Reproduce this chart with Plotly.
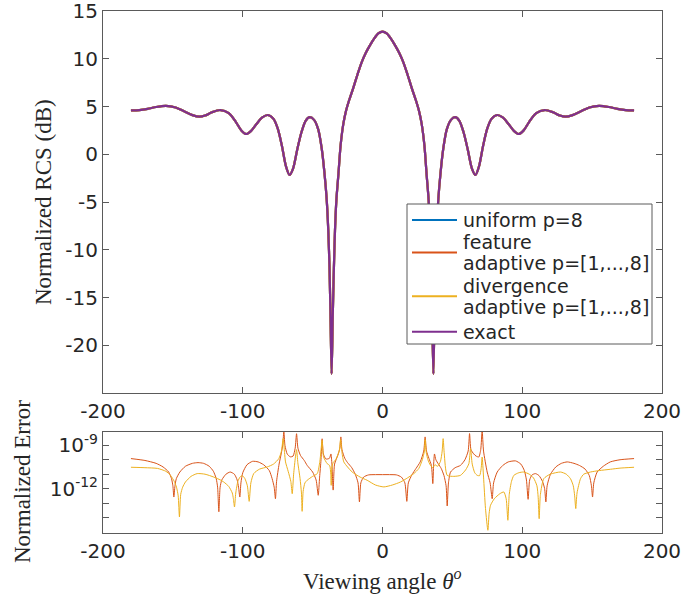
import plotly.graph_objects as go

# ---------------- data ----------------
theta_rcs = [-180, -174, -168, -162, -155, -148, -142, -136, -131, -127, -122, -116, -110, -105, -101,
             -97.5, -94, -90, -86, -82, -78, -75, -72, -69, -66.5, -64, -61, -58, -55, -52, -49, -46,
             -43.5, -41.5, -40, -38.8, -37.9, -37.2, -36.4, -35.6, -34.8, -34, -33, -31.5, -30, -28,
             -26, -24, -21, -18, -15, -12, -9, -6, -3, 0,
             3, 6, 9, 12, 15, 18, 21, 24, 26, 28, 30, 31.5, 33, 34, 34.8, 35.6, 36.4, 37.2, 37.9,
             38.8, 40, 41.5, 43.5, 46, 49, 52, 55, 58, 61, 64, 66.5, 69, 72, 75, 78, 82, 86, 90, 94,
             97.5, 101, 105, 110, 116, 122, 127, 131, 136, 142, 148, 155, 162, 168, 174, 180]
rcs_db = [4.6, 4.62, 4.75, 4.95, 5.07, 4.9, 4.5, 4.1, 3.93, 4.05, 4.4, 4.63, 4.3, 3.4, 2.5,
          2.12, 2.45, 3.2, 3.85, 4.11, 3.7, 2.7, 0.9, -1.3, -2.17, -1.5, 0.5, 2.3, 3.5, 3.88, 3.6, 2.6,
          0.6, -2.0, -4.6, -8, -12, -17, -23, -17, -12, -8, -4.8, -2.0, 0.9, 3.2,
          4.6, 5.6, 6.9, 8.3, 9.6, 10.6, 11.4, 12.1, 12.65, 12.85,
          12.65, 12.1, 11.4, 10.6, 9.6, 8.3, 6.9, 5.6, 4.6, 3.2, 0.9, -2.0, -4.8, -8, -12, -17, -23, -17, -12,
          -8, -4.6, -2.0, 0.6, 2.6, 3.6, 3.88, 3.5, 2.3, 0.5, -1.5, -2.17, -1.3, 0.9, 2.7, 3.7, 4.11, 3.85, 3.2, 2.45,
          2.12, 2.5, 3.4, 4.3, 4.63, 4.4, 4.05, 3.93, 4.1, 4.5, 4.9, 5.07, 4.95, 4.75, 4.62, 4.6]

theta_feat = [-180, -170, -162, -157, -153, -151, -150, -149.3, -148.5, -147.5, -145, -141, -136, -132, -128,
              -124, -121, -119, -118, -117.1, -116.2, -115, -112, -109, -106, -104, -103, -102.1, -101.3,
              -100, -97, -93, -89, -85, -81, -79, -77.5, -76.6, -75.8, -74, -72.5, -71.3, -70.6, -69.8,
              -68.2, -66, -64, -62.5, -61.5, -60.5, -58.7, -56, -53.9, -50, -47.5, -46, -45, -44, -43.2,
              -42.3, -40.5, -38, -36.9, -36.2, -35.3, -34.3, -32, -30.5, -29.8, -29, -27, -25, -22, -19.5,
              -17.5, -16.5, -15.5, -13.5, -10, -5, 0, 5, 10, 13.5, 16, 17.4, 18.5, 21, 24, 27, 29.5, 30.5,
              31.5, 33.2, 35, 36, 36.6, 37.2, 38.2, 40, 42, 44, 45.5, 46.3, 47.2, 48.7, 52, 55.8, 59, 61.3,
              62.3, 63.3, 65.3, 67, 68.9, 70.3, 71.3, 72.3, 74.9, 77, 78.5, 79.5, 82.1, 86, 90, 95.2, 99,
              101.5, 103, 104.2, 105.3, 107, 109.5, 112, 114.5, 116, 116.9, 117.8, 120.2, 124, 128, 132.2,
              137, 141, 145, 148, 149.5, 150.3, 151.2, 153.6, 158, 163, 170, 180]
err_feat_log10 = [-9.92, -10.05, -10.25, -10.5, -10.85, -11.3, -11.8, -12.58, -11.8, -11.3, -10.85, -10.45,
                  -10.25, -10.2, -10.25, -10.45, -10.8, -11.3, -11.9, -13.6, -11.9, -11.4, -11.0, -10.85,
                  -11.0, -11.4, -11.9, -12.58, -11.6, -10.9, -10.35, -10.11, -10.15, -10.35, -10.75, -11.3,
                  -11.9, -12.7, -11.5, -10.3, -9.6, -8.9, -8.0, -9.0, -9.6, -9.8, -9.75, -9.2, -8.2, -9.2,
                  -9.7, -10.05, -10.39, -10.85, -11.4, -12.46, -11.2, -10.0, -8.55, -9.6, -9.95, -9.9, -9.6,
                  -10.3, -12.1, -10.3, -9.7, -9.2, -8.42, -9.3, -9.9, -10.2, -10.55, -11.0, -11.6, -12.92,
                  -11.6, -11.2, -11.05, -11.03, -11.03, -11.03, -11.05, -11.2, -11.6, -12.88, -11.6, -11.05,
                  -10.6, -10.15, -9.4, -8.42, -9.4, -9.9, -10.4, -11.65, -10.3, -9.6, -10.0, -10.3, -10.6,
                  -11.1, -11.8, -13.2, -11.6, -10.85, -10.55, -10.39, -10.0, -9.4, -8.19, -9.3, -9.6, -9.75,
                  -9.81, -9.3, -8.0, -9.4, -10.85, -11.6, -12.7, -11.6, -10.85, -10.4, -10.15, -10.08, -10.3,
                  -10.75, -11.4, -12.74, -11.4, -11.05, -10.96, -11.1, -11.5, -12.0, -12.92, -11.8, -11.0,
                  -10.5, -10.25, -10.15, -10.25, -10.4, -10.65, -11.1, -11.8, -12.58, -11.6, -10.85, -10.45,
                  -10.15, -10.0, -9.92]

theta_div = [-180, -170, -161, -155, -151.7, -149, -147.4, -146.2, -145.3, -144.4, -143, -141, -137, -132.6,
             -127, -120.7, -116, -113.6, -110, -107.5, -106.7, -105.9, -105, -103.5, -102, -100.4, -98.5,
             -96.7, -95.4, -94.2, -92.1, -88, -82.5, -78, -74.2, -72.3, -71.1, -70.1, -69.4, -67.5, -65.6,
             -64.6, -63.6, -62.3, -61.5, -60.6, -59, -58, -57.5, -56.8, -55.5, -53.9, -50, -46.7, -44.8,
             -43.2, -42.2, -39.6, -37.8, -37, -36.7, -36.3, -35.3, -33.5, -31, -30, -29, -27.7, -25, -21.7,
             -16, -11, -5, 1, 7, 12.9, 18, 22.4, 26, 28.5, 30, 30.5, 31.3, 32.5, 34.3, 36, 37.5, 39.5, 41.5,
             42.7, 43.4, 44.2, 46.3, 51, 55.8, 59.5, 61.8, 63, 64.2, 66, 67.8, 69.5, 70.6, 71.3, 72.3, 73.7,
             75.4, 76.3, 77.3, 80, 84, 86.8, 88.5, 89.7, 90.7, 92.3, 94, 97.5, 101.1, 105, 108, 110.5, 111.4,
             112.1, 113, 115.4, 120, 127.4, 131.5, 134.5, 136.5, 137.5, 138.3, 139.2, 141.7, 144, 148.8, 155,
             163.1, 170, 180]
err_div_log10 = [-10.52, -10.55, -10.6, -10.8, -11.08, -11.5, -11.9, -12.5, -13.96, -12.4, -11.9, -11.54,
                 -11.15, -10.96, -11.0, -11.2, -11.4, -11.54, -11.85, -12.3, -12.7, -13.27, -12.3, -11.5,
                 -11.2, -11.1, -11.3, -11.8, -12.88, -11.6, -10.95, -10.65, -10.5, -10.3, -9.92, -9.4, -8.54,
                 -9.5, -10.15, -10.8, -11.5, -12.35, -11.0, -9.8, -9.3, -10.2, -11.3, -12.3, -13.57, -12.2,
                 -11.6, -11.42, -11.15, -10.96, -10.1, -8.65, -9.8, -10.27, -10.4, -11.0, -11.77, -10.6,
                 -10.2, -10.0, -9.4, -8.6, -9.5, -10.15, -10.5, -10.85, -11.2, -11.42, -11.75, -11.88,
                 -11.75, -11.54, -11.25, -10.96, -10.6, -10.0, -9.4, -8.6, -9.5, -10.0, -10.39, -10.55,
                 -10.35, -10.45, -10.1, -9.4, -8.54, -9.6, -11.08, -11.15, -11.08, -10.7, -10.27, -9.23,
                 -10.3, -10.9, -11.08, -11.1, -10.6, -9.81, -11.2, -13.38, -14.88, -13.7, -13.15, -12.7,
                 -12.35, -12.23, -12.7, -14.19, -12.4, -11.5, -11.08, -10.9, -10.85, -11.0, -11.25, -11.8,
                 -12.6, -14.08, -12.4, -11.31, -11.0, -10.85, -11.0, -11.31, -11.8, -12.5, -13.38, -12.3,
                 -11.31, -11.0, -10.85, -10.75, -10.66, -10.58, -10.52]

x_tick_vals = [-200, -100, 0, 100, 200]
x_tick_text = ["-200", "-100", "0", "100", "200"]
rcs_tick_vals = [-20, -15, -10, -5, 0, 5, 10, 15]
rcs_tick_text = ["-20", "-15", "-10", "-5", "0", "5", "10", "15"]
err_tick_vals = [1e-12, 1e-9]
err_tick_text = ["10<sup>-12</sup>", "10<sup>-9</sup>"]
err_minor_vals = [1e-14, 1e-13, 1e-11, 1e-10]

series_names = ["uniform p=8", "feature adaptive p=[1,...,8]",
                "divergence adaptive p=[1,...,8]", "exact"]
legend_lines = [["uniform p=8"], ["feature", "adaptive p=[1,...,8]"],
                ["divergence", "adaptive p=[1,...,8]"], ["exact"]]
colors = ["#0072BD", "#D95319", "#EDB120", "#7E2F8E"]

# ---------------- layout helpers (pixel -> paper) ----------------
L_PX, R_PX, T_PX, B_PX = 103, 662, 11, 533
def px_x(p):
    return (p - L_PX) / (R_PX - L_PX)
def px_y(p):
    return (B_PX - p) / (B_PX - T_PX)

# ---------------- figure ----------------
fig = go.Figure()
for name, col in zip(series_names, colors):
    fig.add_trace(go.Scatter(x=theta_rcs, y=rcs_db, mode="lines", name=name,
                             line=dict(color=col, width=2.2, shape="spline", smoothing=0.8),
                             showlegend=False, xaxis="x", yaxis="y"))

fig.add_trace(go.Scatter(x=theta_feat, y=[10 ** v for v in err_feat_log10], mode="lines",
                         name="feature error",
                         line=dict(color=colors[1], width=1, shape="spline", smoothing=0.6),
                         showlegend=False, xaxis="x2", yaxis="y2"))
fig.add_trace(go.Scatter(x=theta_div, y=[10 ** v for v in err_div_log10], mode="lines",
                         name="divergence error",
                         line=dict(color=colors[2], width=1, shape="spline", smoothing=0.6),
                         showlegend=False, xaxis="x2", yaxis="y2"))

tickfont = dict(family="DejaVu Sans", size=20, color="#262626")
axis_common = dict(showline=True, linecolor="#5a5a5a", linewidth=1, mirror="ticks",
                   ticks="inside", ticklen=6, tickcolor="#5a5a5a", showgrid=False,
                   zeroline=False, tickfont=tickfont, automargin=False,
                   ticklabeloverflow="allow")

# legend drawn as a boxed key (shapes + text)
shapes = [dict(type="rect", xref="paper", yref="paper",
               x0=px_x(407), x1=px_x(652), y0=px_y(344), y1=px_y(204),
               line=dict(color="#5a5a5a", width=1), fillcolor="white", layer="above")]
annotations = []
text_rows = [220, 241.7, 263.3, 285.7, 307, 331.7]
row = 0
for lines, col in zip(legend_lines, colors):
    rows = text_rows[row:row + len(lines)]
    y_mid = sum(rows) / len(rows)
    shapes.append(dict(type="line", xref="paper", yref="paper",
                       x0=px_x(412), x1=px_x(457), y0=px_y(y_mid), y1=px_y(y_mid),
                       line=dict(color=col, width=2), layer="above"))
    for txt, ry in zip(lines, rows):
        annotations.append(dict(text=txt, xref="paper", yref="paper", x=px_x(461), y=px_y(ry),
                                xanchor="left", yanchor="middle", showarrow=False,
                                font=dict(family="DejaVu Sans", size=19, color="#262626")))
    row += len(lines)

label_font = dict(family="Liberation Serif", size=23, color="#262626")
annotations += [
    dict(text="Normalized RCS (dB)", xref="paper", yref="paper", x=px_x(43), y=px_y(202),
         textangle=-90, showarrow=False, xanchor="center", yanchor="middle", font=label_font),
    dict(text="Normalized Error", xref="paper", yref="paper", x=px_x(22), y=px_y(482),
         textangle=-90, showarrow=False, xanchor="center", yanchor="middle", font=label_font),
    dict(text="Viewing angle <i>θ</i><sup><i>o</i></sup>", xref="paper", yref="paper",
         x=px_x(382), y=px_y(579), showarrow=False, xanchor="center", yanchor="middle",
         font=label_font),
]

fig.update_layout(
    template="none",
    width=682, height=594,
    margin=dict(l=L_PX, r=682 - R_PX, t=T_PX, b=594 - B_PX, autoexpand=False),
    paper_bgcolor="white", plot_bgcolor="white",
    xaxis=dict(domain=[0, 1], range=[-200, 200], tickvals=x_tick_vals, ticktext=x_tick_text,
               anchor="y", **axis_common),
    yaxis=dict(domain=[px_y(393), 1], range=[-25, 15], tickvals=rcs_tick_vals,
               ticktext=rcs_tick_text, anchor="x", **axis_common),
    xaxis2=dict(domain=[0, 1], range=[-200, 200], tickvals=x_tick_vals, ticktext=x_tick_text,
                anchor="y2", **axis_common),
    yaxis2=dict(domain=[0, px_y(432)], type="log", range=[-15.07, -8.08], tickvals=err_tick_vals,
                ticktext=err_tick_text, anchor="x2",
                minor=dict(tickvals=err_minor_vals, ticks="inside", ticklen=6,
                           tickcolor="#5a5a5a", showgrid=False),
                **axis_common),
    showlegend=False,
    hovermode=False,
    shapes=shapes,
    annotations=annotations,
)

fig.write_html("out.html", config={"displayModeBar": False, "staticPlot": True},
               post_script="document.body.style.margin='0px';document.body.style.overflow='hidden';")
